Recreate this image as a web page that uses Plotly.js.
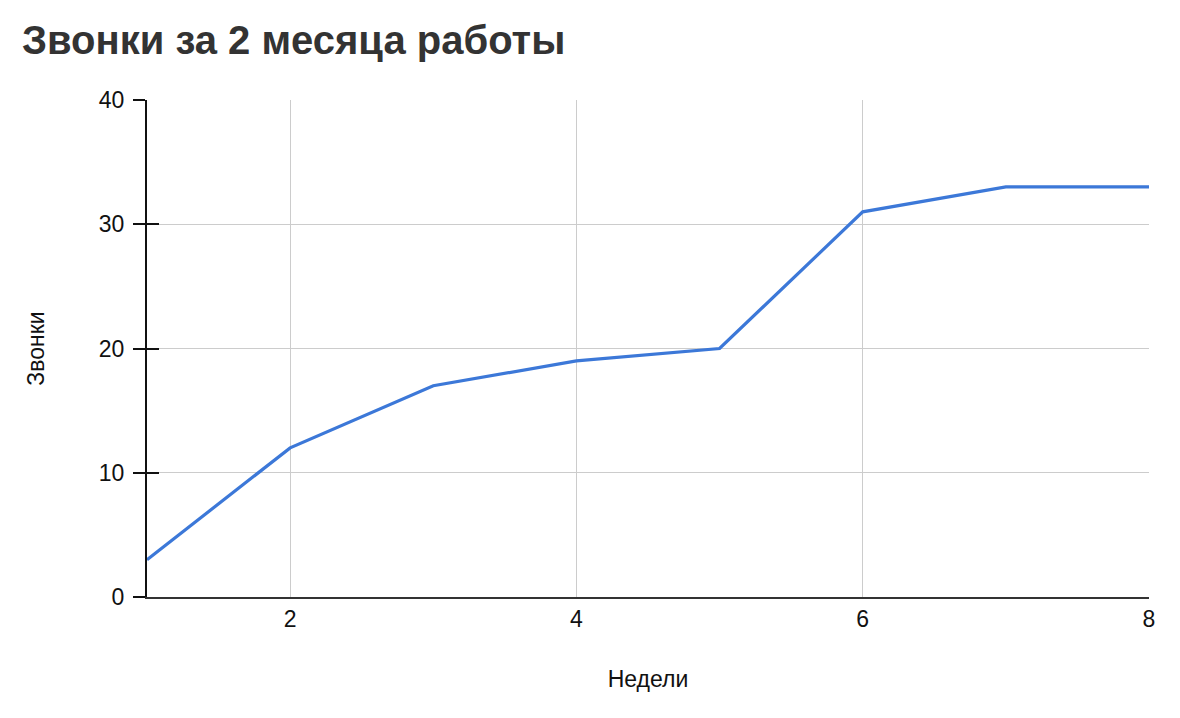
<!DOCTYPE html>
<html>
<head>
<meta charset="utf-8">
<script src="https://cdn.plot.ly/plotly-3.0.1.min.js"></script>
<style>html,body{margin:0;padding:0;background:#fff;}#chart{width:1180px;height:718px;}</style>
</head>
<body>
<div id="chart"></div>
<script>
const weeks = [1, 2, 3, 4, 5, 6, 7, 8];
const calls = [3, 12, 17, 19, 20, 31, 33, 33];
const chartTitle = "Звонки за 2 месяца работы";
const xTitle = "Недели";
const yTitle = "Звонки";

const font = "Liberation Sans, Arial, sans-serif";
const data = [{
  x: weeks, y: calls, type: "scatter", mode: "lines",
  line: {color: "#3c78d8", width: 3.2},
  hoverinfo: "x+y", showlegend: false
}, {
  x: [weeks[0]], y: [calls[0]], type: "scatter", mode: "none", yaxis: "y2",
  hoverinfo: "skip", showlegend: false
}];
const layout = {
  width: 1180, height: 718,
  margin: {l: 147, r: 31, t: 100, b: 121},
  paper_bgcolor: "#fff", plot_bgcolor: "#fff",
  title: {text: "<b>" + chartTitle + "</b>", x: 0.0186, xanchor: "left", y: 0.944, yanchor: "middle",
          font: {family: font, size: 40, color: "#333"}},
  xaxis: {
    range: [1, 8], tick0: 0, dtick: 2, showgrid: true, gridcolor: "#cccccc", gridwidth: 1,
    zeroline: false, showline: true, linecolor: "#333", linewidth: 2, ticks: "",
    tickfont: {family: font, size: 23, color: "#111"},
    title: {text: xTitle, font: {family: font, size: 23, color: "#111"}, standoff: 40}
  },
  yaxis: {
    range: [0, 40], dtick: 10, showgrid: true, gridcolor: "#cccccc", gridwidth: 1,
    zeroline: false, showline: true, linecolor: "#111", linewidth: 2,
    ticks: "outside", ticklen: 12, tickwidth: 2, tickcolor: "#111",
    ticklabelstandoff: 4,
    tickfont: {family: font, size: 23, color: "#111"},
    title: {text: yTitle, font: {family: font, size: 23, color: "#111"}, standoff: 48}
  },
  yaxis2: {
    overlaying: "y", side: "left", anchor: "x", range: [0, 40], dtick: 10,
    showgrid: false, zeroline: false, showline: false, showticklabels: false,
    ticks: "inside", ticklen: 12, tickwidth: 2, tickcolor: "#111"
  }
};
Plotly.newPlot("chart", data, layout, {displayModeBar: false, staticPlot: true});
</script>
</body>
</html>
